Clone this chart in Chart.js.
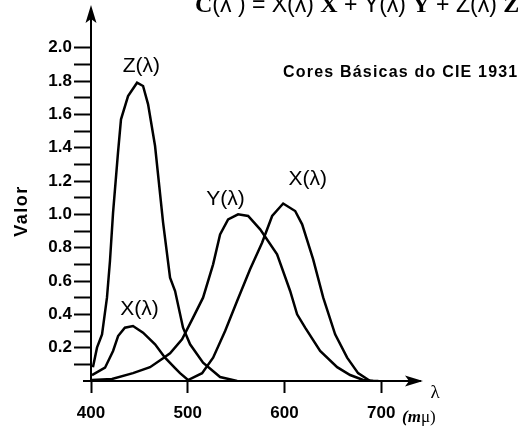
<!DOCTYPE html>
<html>
<head>
<meta charset="utf-8">
<script src="https://cdn.jsdelivr.net/npm/chart.js@4.4.1/dist/chart.umd.min.js"></script>
<style>
  html, body { margin: 0; padding: 0; background: #fff; }
</style>
</head>
<body>
<canvas id="cie" width="522" height="427"></canvas>
<script>
// CIE 1931 colour matching functions
const lambdaX = [401, 414.5, 422.8, 428, 435, 443.4, 453.8, 466.2, 476.5, 486.9, 492, 500.3,
                 514.8, 526.2, 538.6, 551, 564.4, 576.8, 587.2, 598.6, 611, 618.2, 629.6, 640,
                 652.3, 664.7, 676, 688.5, 697];
const valueX  = [0.035, 0.08, 0.18, 0.27, 0.32, 0.33, 0.29, 0.22, 0.14, 0.077, 0.047, 0.006,
                 0.047, 0.14, 0.30, 0.48, 0.67, 0.83, 0.99, 1.065, 1.02, 0.94, 0.73, 0.50,
                 0.28, 0.14, 0.047, 0.0, 0.0];

const lambdaY = [401, 421.7, 443.4, 461, 474.5, 481.7, 494.1, 505.5, 515.8, 526.2, 533.4, 541.7,
                 552, 562.4, 574.8, 592.3, 605.8, 613, 621.3, 636.8, 654.4, 667.8, 681.3, 691.6];
const valueY  = [0.006, 0.012, 0.047, 0.083, 0.136, 0.166, 0.25, 0.38, 0.50, 0.70, 0.88, 0.97,
                 1.0, 0.99, 0.91, 0.76, 0.54, 0.40, 0.32, 0.18, 0.083, 0.036, 0.006, 0.0];

const lambdaZ = [402, 406.2, 411.4, 416.5, 419.6, 422.8, 427.9, 431, 438.3, 447.6, 453.8, 459,
                 466.2, 474.5, 481.7, 486.9, 495.1, 502.4, 515.8, 533.4, 551];
const valueZ  = [0.083, 0.20, 0.28, 0.50, 0.72, 1.01, 1.37, 1.57, 1.71, 1.79, 1.77, 1.66,
                 1.41, 0.95, 0.62, 0.54, 0.32, 0.22, 0.11, 0.024, 0.0];

const xTicks      = [400, 500, 600, 700];
const yMajorTicks = [0.2, 0.4, 0.6, 0.8, 1.0, 1.2, 1.4, 1.6, 1.8, 2.0];
const yMinorTicks = [0.1, 0.3, 0.5, 0.7, 0.9, 1.1, 1.3, 1.5, 1.7, 1.9];

// curve labels, placed in data coordinates
const curveLabels = [
  { text: 'Z(λ)', lambda: 452, value: 1.89 },
  { text: 'X(λ)', lambda: 450, value: 0.43 },
  { text: 'Y(λ)', lambda: 539, value: 1.09 },
  { text: 'X(λ)', lambda: 624, value: 1.21 },
];

const SANS = '"Liberation Sans", Arial, Helvetica, sans-serif';
const SERIF = '"Liberation Serif", "Times New Roman", serif';

const toPoints = (xs, ys) => xs.map((l, i) => ({ x: l, y: ys[i] }));

function arrowHead(ctx, tx, ty, dx, dy) {
  // filled, slightly notched arrow head pointing along (dx, dy)
  const len = 18, half = 5.5, notch = 4;
  const px = -dy, py = dx;
  ctx.beginPath();
  ctx.moveTo(tx, ty);
  ctx.lineTo(tx - dx * len + px * half, ty - dy * len + py * half);
  ctx.lineTo(tx - dx * (len - notch), ty - dy * (len - notch));
  ctx.lineTo(tx - dx * len - px * half, ty - dy * len - py * half);
  ctx.closePath();
  ctx.fill();
}

const decor = {
  id: 'decor',
  afterDraw(chart) {
    const { ctx, chartArea: a, scales: { x, y } } = chart;
    ctx.save();
    ctx.fillStyle = '#000';
    ctx.strokeStyle = '#000';
    ctx.lineWidth = 2;

    // axis stub left of origin + arrow heads
    ctx.beginPath();
    ctx.moveTo(83, a.bottom);
    ctx.lineTo(a.left, a.bottom);
    ctx.stroke();
    arrowHead(ctx, a.left, 5, 0, -1);
    arrowHead(ctx, 423, a.bottom, 1, 0);

    // curve labels
    ctx.font = '21px ' + SANS;
    ctx.textAlign = 'center';
    ctx.textBaseline = 'middle';
    curveLabels.forEach(l => {
      ctx.fillText(l.text, x.getPixelForValue(l.lambda), y.getPixelForValue(l.value));
    });

    // axis names
    ctx.font = '19px ' + SERIF;
    ctx.fillText('λ', 435, 393);
    ctx.textAlign = 'left';
    ctx.font = 'italic bold 17px ' + SERIF;
    let cx = 402;
    ctx.fillText('(', cx, 418); cx += ctx.measureText('(').width;
    ctx.fillText('m', cx, 418); cx += ctx.measureText('m').width;
    ctx.font = '17px ' + SERIF;
    ctx.fillText('μ)', cx, 418);

    ctx.save();
    ctx.translate(22, 211);
    ctx.rotate(-Math.PI / 2);
    ctx.textAlign = 'center';
    ctx.font = 'bold 18px ' + SANS;
    ctx.letterSpacing = '1.5px';
    ctx.fillText('Valor', 0, 0);
    ctx.restore();

    // subtitle
    ctx.textAlign = 'left';
    ctx.textBaseline = 'alphabetic';
    ctx.font = 'bold 16px ' + SANS;
    ctx.letterSpacing = '1.2px';
    ctx.fillText('Cores Básicas do CIE 1931', 283, 77);
    ctx.letterSpacing = '0px';

    // equation, clipped at the top edge
    const parts = [
      ['C', 'bold 24px ' + SERIF], ['(λ ) = ', '23px ' + SANS],
      ['X(λ) ', '23px ' + SANS], ['X', 'bold 24px ' + SERIF], [' + ', '23px ' + SANS],
      ['Y(λ) ', '23px ' + SANS], ['Y', 'bold 24px ' + SERIF], [' + ', '23px ' + SANS],
      ['Z(λ) ', '23px ' + SANS], ['Z', 'bold 24px ' + SERIF],
    ];
    let ex = 195;
    parts.forEach(([t, f]) => {
      ctx.font = f;
      ctx.fillText(t, ex, 12);
      ex += ctx.measureText(t).width;
    });
    ctx.restore();
  },
};

const lineStyle = {
  borderColor: '#000',
  borderWidth: 2.5,
  pointRadius: 0,
  tension: 0,
  fill: false,
};

new Chart(document.getElementById('cie'), {
  type: 'line',
  data: {
    datasets: [
      { label: 'X(λ)', data: toPoints(lambdaX, valueX), ...lineStyle },
      { label: 'Y(λ)', data: toPoints(lambdaY, valueY), ...lineStyle },
      { label: 'Z(λ)', data: toPoints(lambdaZ, valueZ), ...lineStyle },
    ],
  },
  options: {
    responsive: false,
    animation: false,
    layout: { padding: { top: 7, right: 102, bottom: 0, left: 0 } },
    plugins: { legend: { display: false }, tooltip: { enabled: false } },
    scales: {
      x: {
        type: 'linear',
        min: 400,
        max: 740,
        afterBuildTicks: s => { s.ticks = xTicks.map(v => ({ value: v })); },
        afterFit: s => { s.height = 46; },
        grid: { drawOnChartArea: false, tickLength: 12, tickWidth: 2, tickColor: '#000' },
        border: { display: true, color: '#000', width: 2 },
        ticks: {
          color: '#000',
          padding: 10,
          maxRotation: 0,
          autoSkip: false,
          font: { family: SANS, size: 17, weight: 'bold' },
          callback: v => String(v),
        },
      },
      y: {
        type: 'linear',
        min: 0,
        max: 2.213,
        afterBuildTicks: s => {
          s.ticks = [...yMajorTicks, ...yMinorTicks].sort((a, b) => a - b).map(v => ({ value: v }));
        },
        afterFit: s => { s.width = 91; },
        grid: { drawOnChartArea: false, tickLength: 17, tickWidth: 2, tickColor: '#000' },
        border: { display: true, color: '#000', width: 2 },
        ticks: {
          color: '#000',
          padding: 2,
          autoSkip: false,
          font: { family: SANS, size: 17, weight: 'bold' },
          callback: v => yMajorTicks.some(t => Math.abs(t - v) < 1e-6) ? v.toFixed(1) : '',
        },
      },
    },
  },
  plugins: [decor],
});
</script>
</body>
</html>
